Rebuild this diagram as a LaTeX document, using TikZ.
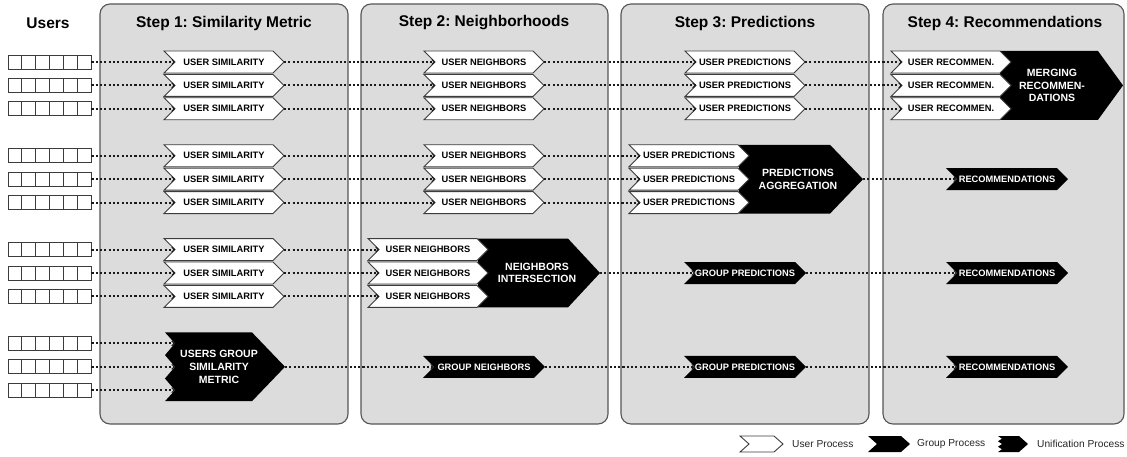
\documentclass[tikz,border=0pt]{standalone}
\usepackage{fontspec}
\setmainfont{Liberation Sans}
\frenchspacing
\usetikzlibrary{arrows.meta}
\definecolor{panelfill}{HTML}{DCDCDC}
\definecolor{panelline}{HTML}{555555}
\definecolor{edge}{HTML}{3C3C3C}
\definecolor{dotline}{HTML}{1A1A1A}
\tikzset{
  x=1pt, y=-1pt,
  panel/.style={draw=panelline, fill=panelfill, line width=1.1pt, rounded corners=10pt},
  steptitle/.style={font=\fontsize{15.5}{18}\selectfont\bfseries, text=black, inner sep=0pt},
  userproc/.style={draw=edge, fill=white, line width=0.9pt, line join=miter},
  groupproc/.style={fill=black},
  utext/.style={font=\fontsize{9.3}{11}\selectfont\bfseries, text=black, inner sep=0pt},
  gtext/.style={font=\fontsize{9.3}{11}\selectfont\bfseries, text=white, inner sep=0pt},
  mtext/.style={font=\fontsize{10.5}{12.6}\selectfont\bfseries, text=white, align=center, inner sep=0pt},
  link/.style={draw=dotline, line width=2.1pt, dash pattern=on 2.1pt off 2.2pt,
    -{Straight Barb[length=2.5pt,width=5pt,line width=1pt]}},
  legendtext/.style={font=\fontsize{10.2}{12}\selectfont, text=black!85, anchor=west, inner sep=0pt},
  userbox/.style={draw=edge, fill=white, line width=0.9pt, minimum width=83pt, minimum height=14pt, inner sep=0pt},
}
% white user-process chevron: name, centre x, centre y, label
\newcommand\uchev[4]{%
  \path[userproc] ({#2-60},{#3-11}) -- ({#2+49},{#3-11}) -- ({#2+60},{#3}) -- ({#2+49},{#3+11})
    -- ({#2-60},{#3+11}) -- ({#2-49},{#3}) -- cycle;
  \node[utext] (#1) at (#2,#3) {#4};
  \coordinate (#1-in) at ({#2-49},{#3});
  \coordinate (#1-out) at ({#2+60},{#3});
}
% black group-process chevron: name, centre x, centre y, label
\newcommand\gchev[4]{%
  \path[groupproc] ({#2-61},{#3-11}) -- ({#2+50},{#3-11}) -- ({#2+61},{#3}) -- ({#2+50},{#3+11})
    -- ({#2-61},{#3+11}) -- ({#2-50},{#3}) -- cycle;
  \node[gtext] (#1) at (#2,#3) {#4};
  \coordinate (#1-in) at ({#2-50},{#3});
  \coordinate (#1-out) at ({#2+61},{#3});
}
% row of six user cells: name, centre y
\newcommand\userrow[2]{%
  \node[userbox] (#1) at (49.5,#2) {};
  \foreach \k in {1,...,5} \draw[edge, line width=0.9pt] ({8+13.83*\k},{#2-7}) -- ++(0,14);
}
\begin{document}
\begin{tikzpicture}
\useasboundingbox (0,0) rectangle (1127,457);

% step panels
\draw[panel] (100,4) rectangle (348,424);
\draw[panel] (361,4) rectangle (608,424);
\draw[panel] (621,4) rectangle (869,424);
\draw[panel] (883,4) rectangle (1124,424);

% headings
\node[steptitle] (users) at (48,23) {Users};
\node[steptitle] (t1) at (224,23) {Step 1: Similarity Metric};
\node[steptitle] (t2) at (484,23) {Step 2: Neighborhoods};
\node[steptitle] (t3) at (745,23) {Step 3: Predictions};
\node[steptitle] (t4) at (1005,23) {Step 4: Recommendations};

% users
\userrow{ua1}{62}    \userrow{ua2}{85.4}  \userrow{ua3}{108.8}
\userrow{ub1}{155.8} \userrow{ub2}{179.2} \userrow{ub3}{202.6}
\userrow{uc1}{249.6} \userrow{uc2}{273}   \userrow{uc3}{296.4}
\userrow{ud1}{343.4} \userrow{ud2}{366.8} \userrow{ud3}{390.2}

% unification bodies (drawn below the white chevrons that feed them)
\fill[black] (1000,51) -- (1098,51) -- (1123,85.4) -- (1098,119.8) -- (1000,119.8) -- cycle;
\node[mtext] (merge) at (1052,85.4) {MERGING\\RECOMMEN-\\DATIONS};
\fill[black] (739,144.8) -- (830,144.8) -- (863,179.2) -- (830,213.6) -- (739,213.6) -- cycle;
\node[mtext] (agg) at (798,179.2) {PREDICTIONS\\AGGREGATION};
\coordinate (agg-out) at (863,179.2);
\fill[black] (478,238.6) -- (568,238.6) -- (600,273) -- (568,307.4) -- (478,307.4) -- cycle;
\node[mtext] (inter) at (537,273) {NEIGHBORS\\INTERSECTION};
\coordinate (inter-out) at (600,273);
\fill[black] (165,332.4) -- (252,332.4) -- (285,366.8) -- (252,401.2) -- (165,401.2)
  -- (175,390.2) -- (165,378.5) -- (175,366.8) -- (165,355.1) -- (175,343.4) -- cycle;
\node[mtext] (gsim) at (219,366.8) {USERS GROUP\\SIMILARITY\\METRIC};
\coordinate (gsim-in1) at (175,343.4);
\coordinate (gsim-in2) at (175,366.8);
\coordinate (gsim-in3) at (175,390.2);
\coordinate (gsim-out) at (285,366.8);

% step 1
\foreach \r/\y in {a1/62,a2/85.4,a3/108.8,b1/155.8,b2/179.2,b3/202.6,c1/249.6,c2/273,c3/296.4}
  {\uchev{s\r}{224}{\y}{USER SIMILARITY}}
% step 2
\foreach \r/\y in {a1/62,a2/85.4,a3/108.8,b1/155.8,b2/179.2,b3/202.6}
  {\uchev{n\r}{484}{\y}{USER NEIGHBORS}}
\foreach \r/\y in {c1/249.6,c2/273,c3/296.4}
  {\uchev{n\r}{428}{\y}{USER NEIGHBORS}}
\gchev{gn}{484}{366.8}{GROUP NEIGHBORS}
% step 3
\foreach \r/\y in {a1/62,a2/85.4,a3/108.8}
  {\uchev{p\r}{745}{\y}{USER PREDICTIONS}}
\foreach \r/\y in {b1/155.8,b2/179.2,b3/202.6}
  {\uchev{p\r}{689}{\y}{USER PREDICTIONS}}
\gchev{gpc}{745}{273}{GROUP PREDICTIONS}
\gchev{gpd}{745}{366.8}{GROUP PREDICTIONS}
% step 4
\foreach \r/\y in {a1/62,a2/85.4,a3/108.8}
  {\uchev{r\r}{951}{\y}{USER RECOMMEN.}}
\gchev{rb}{1007}{179.2}{RECOMMENDATIONS}
\gchev{rc}{1007}{273}{RECOMMENDATIONS}
\gchev{rd}{1007}{366.8}{RECOMMENDATIONS}

% dotted data flow
\foreach \r in {a1,a2,a3,b1,b2,b3,c1,c2,c3} {
  \draw[link] (u\r.east) -- (s\r-in);
  \draw[link] (s\r-out) -- (n\r-in);
}
\foreach \r in {a1,a2,a3,b1,b2,b3} \draw[link] (n\r-out) -- (p\r-in);
\foreach \r in {a1,a2,a3} \draw[link] (p\r-out) -- (r\r-in);
\draw[link] (agg-out) -- (rb-in);
\draw[link] (inter-out) -- (gpc-in);
\draw[link] (gpc-out) -- (rc-in);
\draw[link] (ud1.east) -- (gsim-in1);
\draw[link] (ud2.east) -- (gsim-in2);
\draw[link] (ud3.east) -- (gsim-in3);
\draw[link] (gsim-out) -- (gn-in);
\draw[link] (gn-out) -- (gpd-in);
\draw[link] (gpd-out) -- (rd-in);

% legend
\path[userproc] (740,436) -- (774,436) -- (783,444) -- (774,452) -- (740,452) -- (749,444) -- cycle;
\node[legendtext] (lu) at (792,444) {User Process};
\fill[black] (868,436) -- (901,436) -- (910,444) -- (901,452) -- (868,452) -- (877,444) -- cycle;
\node[legendtext] (lg) at (917,444) {Group Process};
\fill[black] (998,436) -- (1019,436) -- (1028,444) -- (1019,452) -- (998,452) -- (1002,449.3)
  -- (998,446.7) -- (1002,444) -- (998,441.3) -- (1002,438.7) -- cycle;
\node[legendtext] (lun) at (1037,444) {Unification Process};
\end{tikzpicture}
\end{document}
